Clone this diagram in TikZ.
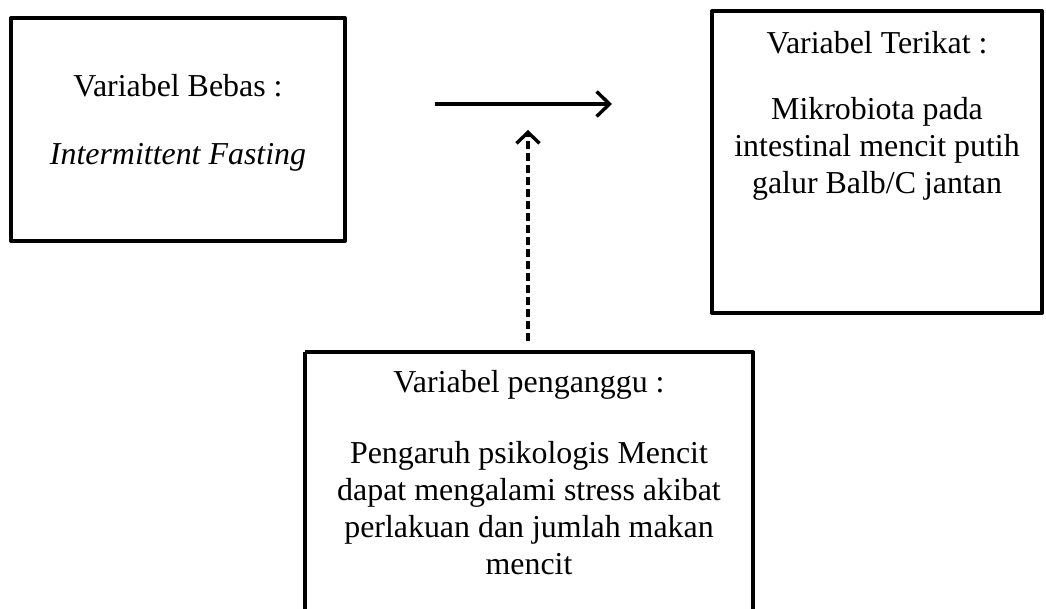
\documentclass[tikz,border=0pt]{standalone}
\usepackage{fontspec}
\setmainfont{Liberation Serif}
\usetikzlibrary{arrows.meta}
\begin{document}
\begin{tikzpicture}[x=1pt,y=-1pt,
  varbox/.style={draw=black, line width=4pt, line join=round},
  vtext/.style={anchor=base, align=center, inner sep=0pt, font=\fontsize{31.9}{37}\selectfont},
  conn/.style={line width=3.4pt, -{Straight Barb[length=13pt,width=25pt,line width=3.4pt]}}
]
\useasboundingbox (0,0) rectangle (1046,609);
\clip (0,0) rectangle (1046,609);
% boxes
\draw[varbox] (11,18) rectangle (345,241);
\draw[varbox] (712,11) rectangle (1042,313);
\draw[varbox] (305,352) -- (305,640) (305,352) -- (753,352) -- (753,640);
% texts (anchored at the baseline of the last line)
\node (bebas) [vtext] at (178,165) {Variabel Bebas :\\[31pt] \textit{Intermittent Fasting}};
\node (terikat) [vtext] at (877,194) {Variabel Terikat :\\[29pt] Mikrobiota pada\\ intestinal mencit putih\\ galur Balb/C jantan};
\node (ganggu) [vtext] at (529,574) {Variabel penganggu :\\[34pt] Pengaruh psikologis Mencit\\ dapat mengalami stress akibat\\ perlakuan dan jumlah makan\\ mencit};
% connectors
\coordinate (hs) at (435,104);
\coordinate (he) at (612,104);
\coordinate (vs) at (528,341);
\coordinate (ve) at (528,130);
\draw[conn] (hs) -- (he);
\draw[conn, dash pattern=on 8pt off 4pt, -{Straight Barb[length=11pt,width=23pt,line width=3.4pt]}] (vs) -- (ve);
\end{tikzpicture}
\end{document}
